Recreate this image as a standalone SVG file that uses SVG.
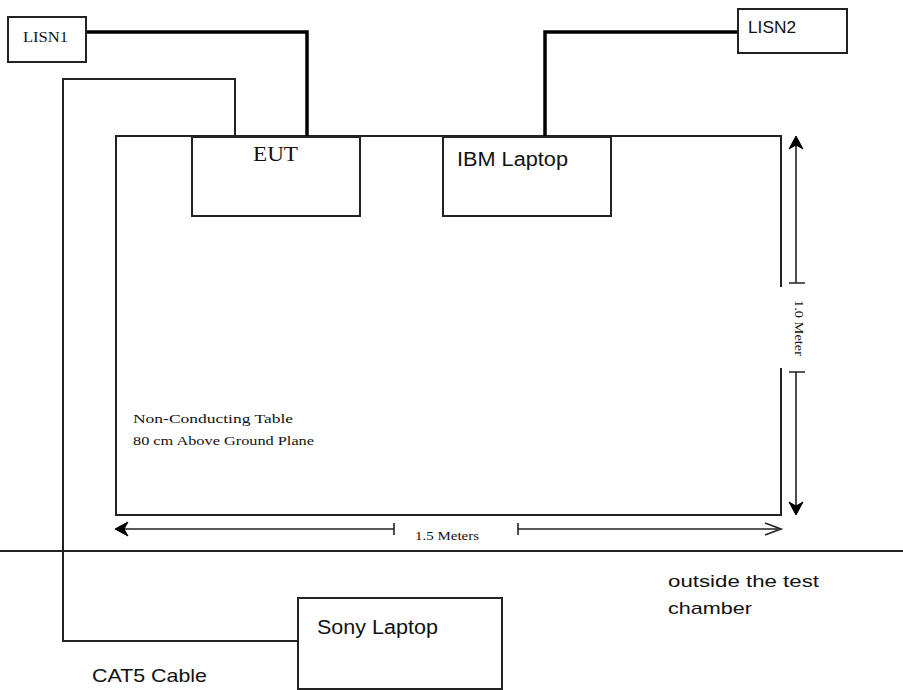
<svg xmlns="http://www.w3.org/2000/svg" width="903" height="690" viewBox="0 0 903 690">
<style>
.box{fill:#fff;stroke:#222;stroke-width:2}
.ln{fill:none;stroke:#222;stroke-width:2}
.thick{fill:none;stroke:#000;stroke-width:3.5}
.dim{fill:none;stroke:#222;stroke-width:1.6}
.ah{fill:#000;stroke:#000;stroke-width:1;stroke-linejoin:miter}
.serif{font-family:"Liberation Serif","Times New Roman",serif;fill:#111}
.sans{font-family:"Liberation Sans",Arial,sans-serif;fill:#111}
</style>
<rect width="903" height="690" fill="#fff"/>
<g id="table">
<path class="ln" d="M781,287 V136 H116 V515 H781 V368"/>
<text class="serif" x="133" y="423" font-size="13" textLength="160" lengthAdjust="spacingAndGlyphs">Non-Conducting Table</text>
<text class="serif" x="133" y="445" font-size="13" textLength="181" lengthAdjust="spacingAndGlyphs">80 cm Above Ground Plane</text>
</g>
<g id="connectors">
<path class="thick" d="M86,32 H307 V137"/>
<path class="thick" d="M738,32 H545 V137"/>
<path class="ln" d="M235,137 V79 H63 V641 H298"/>
<line class="ln" x1="0" y1="551" x2="903" y2="551"/>
</g>
<g id="dim-vertical">
<path class="dim" d="M796,140 V283 M789,283 H805 M789,372 H805 M796,372 V510"/>
<path class="ah" d="M796,136 L803,149 L796,145 L789,149 Z"/>
<path class="ah" d="M796,515 L803,502 L796,506 L789,502 Z"/>
<text class="serif" font-size="13" transform="translate(795,300) rotate(90)" textLength="56" lengthAdjust="spacingAndGlyphs">1.0 Meter</text>
</g>
<g id="dim-horizontal">
<path class="dim" d="M120,529 H394 M394,523 V535 M518,523 V535 M518,529 H778"/>
<path class="ah" d="M115,529 L128,522 L124,529 L128,536 Z"/>
<path class="dim" d="M765,523 L781,529 L765,535"/>
<text class="serif" x="415" y="540" font-size="13" textLength="64" lengthAdjust="spacingAndGlyphs">1.5 Meters</text>
</g>
<g id="lisn1">
<rect class="box" x="8" y="17" width="78" height="45"/>
<text class="serif" x="23" y="42" font-size="14" textLength="45" lengthAdjust="spacingAndGlyphs">LISN1</text>
</g>
<g id="lisn2">
<rect class="box" x="738" y="9" width="109" height="44"/>
<text class="sans" x="748" y="33" font-size="17" textLength="48" lengthAdjust="spacingAndGlyphs">LISN2</text>
</g>
<g id="eut">
<rect class="box" x="192" y="137" width="168" height="79"/>
<text class="serif" x="253" y="161" font-size="22" textLength="45" lengthAdjust="spacingAndGlyphs">EUT</text>
</g>
<g id="ibm">
<rect class="box" x="443" y="137" width="168" height="79"/>
<text class="sans" x="457" y="166" font-size="20" textLength="111" lengthAdjust="spacingAndGlyphs">IBM Laptop</text>
</g>
<g id="sony">
<rect class="box" x="298" y="598" width="204" height="91"/>
<text class="sans" x="317" y="634" font-size="20" textLength="121" lengthAdjust="spacingAndGlyphs">Sony Laptop</text>
</g>
<g id="labels">
<text class="sans" x="668" y="587" font-size="17" textLength="151" lengthAdjust="spacingAndGlyphs">outside the test</text>
<text class="sans" x="668" y="614" font-size="17" textLength="84" lengthAdjust="spacingAndGlyphs">chamber</text>
<text class="sans" x="92" y="682" font-size="19" textLength="115" lengthAdjust="spacingAndGlyphs">CAT5 Cable</text>
</g>
</svg>
